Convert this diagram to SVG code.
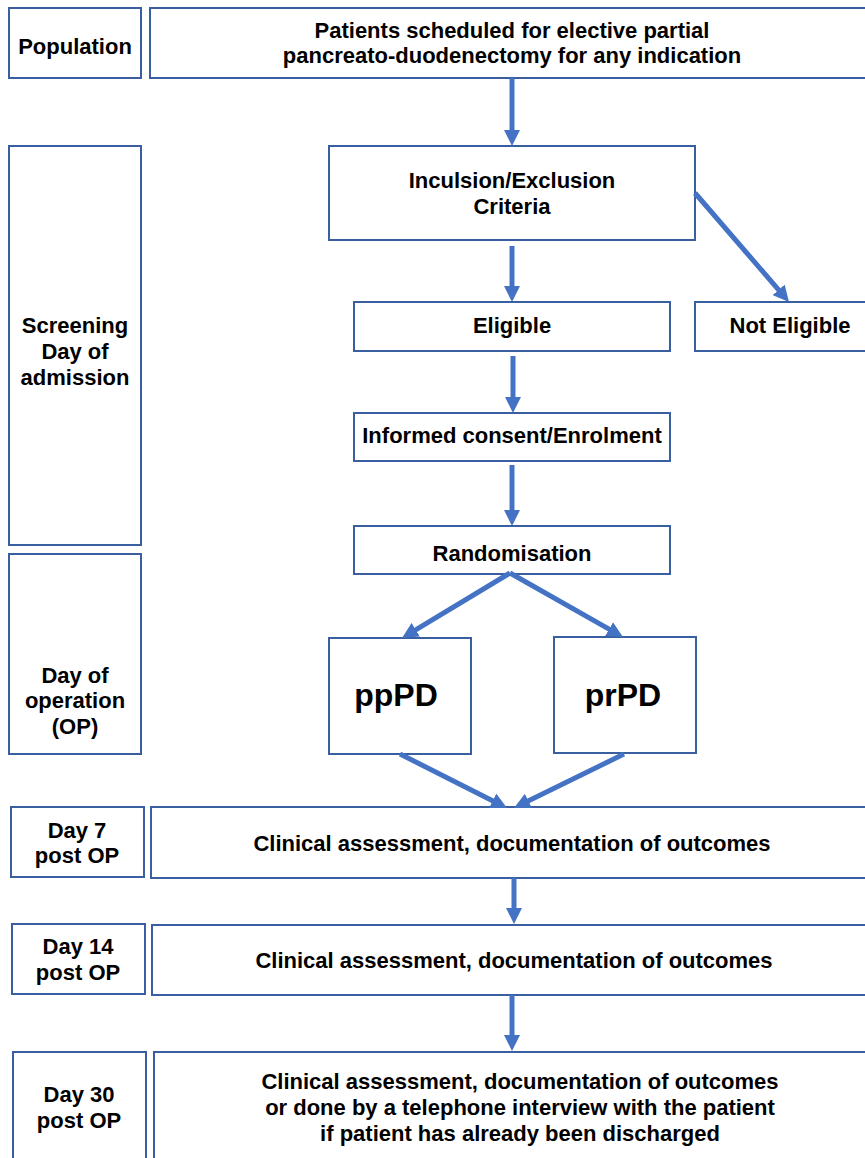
<svg xmlns="http://www.w3.org/2000/svg" width="865" height="1158" viewBox="0 0 865 1158">
<style>
.box{fill:#fff;stroke:#3A5FA0;stroke-width:2}
.t{font-family:"Liberation Sans",Arial,sans-serif;font-weight:bold;font-size:22px;fill:#000;text-anchor:middle}
.big{font-size:32px}
.arr{stroke:#4472C4;stroke-width:5;fill:none;marker-end:url(#ah)}
</style>
<defs>
<marker id="ah" markerUnits="userSpaceOnUse" markerWidth="16" markerHeight="16" refX="2" refY="8" orient="auto">
<path d="M0,0 L16,8 L0,16 z" fill="#4472C4"/>
</marker>
</defs>
<rect width="865" height="1158" fill="#fff"/>

<g id="population"><rect class="box" x="9" y="8" width="132" height="70"/><text class="t" x="75" y="54">Population</text></g>
<g id="patients"><rect class="box" x="150" y="8" width="725" height="70"/><text class="t" x="512" y="38">Patients scheduled for elective partial</text><text class="t" x="512" y="63">pancreato-duodenectomy for any indication</text></g>

<g id="screening"><rect class="box" x="9" y="146" width="132" height="399"/><text class="t" x="75" y="333">Screening</text><text class="t" x="75" y="359">Day of</text><text class="t" x="75" y="385">admission</text></g>
<g id="criteria"><rect class="box" x="329" y="146" width="366" height="94"/><text class="t" x="512" y="188">Inculsion/Exclusion</text><text class="t" x="512" y="214">Criteria</text></g>
<g id="eligible"><rect class="box" x="354" y="302" width="316" height="49"/><text class="t" x="512" y="333">Eligible</text></g>
<g id="noteligible"><rect class="box" x="695" y="302" width="190" height="49"/><text class="t" x="790" y="333">Not Eligible</text></g>
<g id="consent"><rect class="box" x="354" y="413" width="316" height="48"/><text class="t" x="512" y="443">Informed consent/Enrolment</text></g>
<g id="random"><rect class="box" x="354" y="526" width="316" height="48"/><text class="t" x="512" y="561">Randomisation</text></g>

<g id="dayop"><rect class="box" x="9" y="554" width="132" height="200"/><text class="t" x="75" y="683">Day of</text><text class="t" x="75" y="708">operation</text><text class="t" x="75" y="734">(OP)</text></g>
<g id="pppd"><rect class="box" x="329" y="638" width="142" height="116"/><text class="t big" x="396" y="706">ppPD</text></g>
<g id="prpd"><rect class="box" x="554" y="637" width="142" height="116"/><text class="t big" x="623" y="706">prPD</text></g>

<g id="day7"><rect class="box" x="11" y="807" width="133" height="70"/><text class="t" x="77" y="838">Day 7</text><text class="t" x="77" y="863">post OP</text></g>
<g id="assess7"><rect class="box" x="151" y="807" width="724" height="71"/><text class="t" x="512" y="851">Clinical assessment, documentation of outcomes</text></g>

<g id="day14"><rect class="box" x="12" y="924" width="133" height="70"/><text class="t" x="78" y="954">Day 14</text><text class="t" x="78" y="980">post OP</text></g>
<g id="assess14"><rect class="box" x="152" y="925" width="725" height="70"/><text class="t" x="514" y="968">Clinical assessment, documentation of outcomes</text></g>

<g id="day30"><rect class="box" x="13" y="1052" width="133" height="130"/><text class="t" x="79" y="1102">Day 30</text><text class="t" x="79" y="1128">post OP</text></g>
<g id="assess30"><rect class="box" x="154" y="1052" width="732" height="130"/><text class="t" x="520" y="1089">Clinical assessment, documentation of outcomes</text><text class="t" x="520" y="1115">or done by a telephone interview with the patient</text><text class="t" x="520" y="1141">if patient has already been discharged</text></g>

<g id="connectors">
<line class="arr" x1="512" y1="78" x2="512" y2="132"/>
<line class="arr" x1="512" y1="246" x2="512" y2="288"/>
<line class="arr" x1="695" y1="193" x2="779.9" y2="291.4"/>
<line class="arr" x1="513" y1="356" x2="513" y2="399"/>
<line class="arr" x1="512" y1="465" x2="512" y2="512"/>
<line class="arr" x1="510" y1="573" x2="414" y2="630.8"/>
<line class="arr" x1="510" y1="573" x2="610.8" y2="630.1"/>
<line class="arr" x1="400" y1="754" x2="494.5" y2="801.7"/>
<line class="arr" x1="624" y1="754" x2="526.6" y2="801.8"/>
<line class="arr" x1="514" y1="878" x2="514" y2="910"/>
<line class="arr" x1="512" y1="995" x2="512" y2="1037"/>
</g>
</svg>
